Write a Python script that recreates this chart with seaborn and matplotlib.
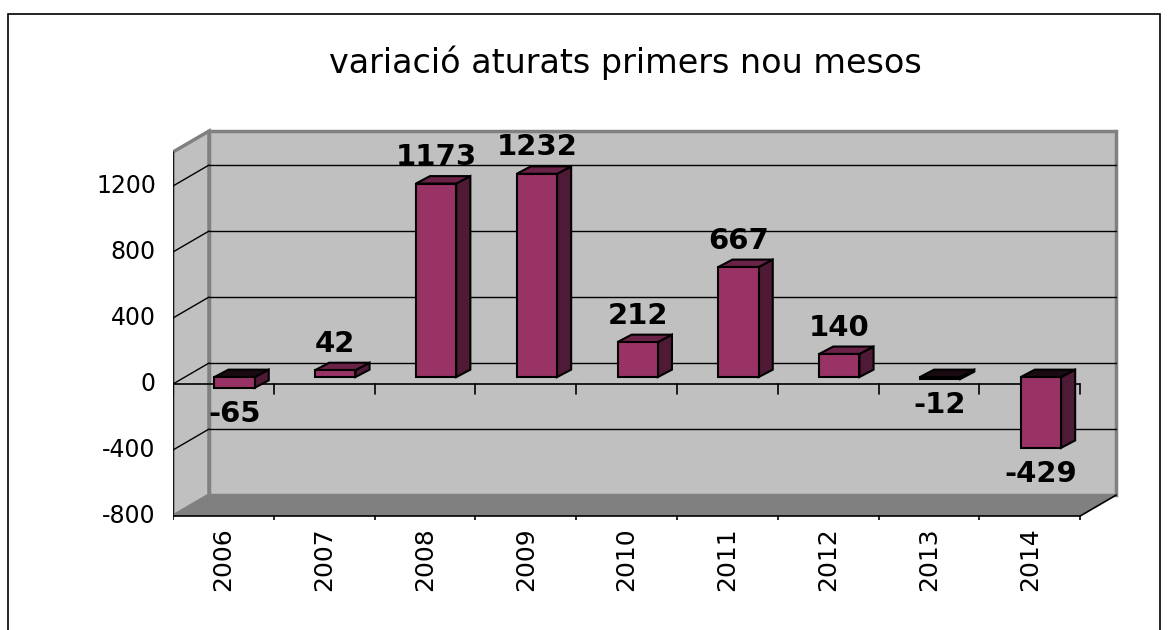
import matplotlib
matplotlib.use("Agg")
import matplotlib.pyplot as plt
import numpy as np
import pandas as pd
import seaborn as sns
from matplotlib.patches import Polygon, Rectangle

years = ["2006", "2007", "2008", "2009", "2010", "2011", "2012", "2013", "2014"]
values = [-65, 42, 1173, 1232, 212, 667, 140, -12, -429]
y_ticks = [-800, -400, 0, 400, 800, 1200]
title = "variació aturats primers nou mesos"

data = pd.DataFrame({"year": years, "value": values})

# fake 3D geometry (data units)
WALL_DX, WALL_DY = 0.357, 127      # depth of the back wall
BAR_DX, BAR_DY = 0.14, 45          # depth of each bar
BAR_SHIFT_X, BAR_SHIFT_Y = 0.11, 42
Y_TOP, Y_FLOOR = 1406, -800
X_LEFT, X_RIGHT = -0.5, len(years) - 0.5

sns.set_style("white")
plt.rcParams["text.color"] = "black"

fig = plt.figure(figsize=(11.74, 6.30), dpi=100)
ax = fig.add_axes([173 / 1174, 110 / 630, 947 / 1174, 395 / 630])

# outer chart border
fig.patches.append(Rectangle((8 / 1174, -0.01), 1152 / 1174, 616 / 630 + 0.01,
                             transform=fig.transFigure, fill=False,
                             edgecolor="black", linewidth=1.2))

# walls
back = Polygon([(X_LEFT + WALL_DX, Y_FLOOR + WALL_DY), (X_RIGHT + WALL_DX, Y_FLOOR + WALL_DY),
                (X_RIGHT + WALL_DX, Y_TOP + WALL_DY), (X_LEFT + WALL_DX, Y_TOP + WALL_DY)],
               closed=True, facecolor="#C0C0C0", edgecolor="#808080", linewidth=2.5, zorder=0)
side = Polygon([(X_LEFT, Y_FLOOR), (X_LEFT + WALL_DX, Y_FLOOR + WALL_DY),
                (X_LEFT + WALL_DX, Y_TOP + WALL_DY), (X_LEFT, Y_TOP)],
               closed=True, facecolor="#C0C0C0", edgecolor="#808080", linewidth=2.5, zorder=0)
floor = Polygon([(X_LEFT, Y_FLOOR), (X_RIGHT, Y_FLOOR), (X_RIGHT + WALL_DX, Y_FLOOR + WALL_DY),
                 (X_LEFT + WALL_DX, Y_FLOOR + WALL_DY)],
                closed=True, facecolor="#808080", edgecolor="none", zorder=1)
ax.add_patch(back)
ax.add_patch(side)
ax.add_patch(floor)

# gridlines on back wall and side wall
for v in y_ticks[1:]:
    ax.plot([X_LEFT + WALL_DX, X_RIGHT + WALL_DX], [v + WALL_DY, v + WALL_DY],
            color="black", linewidth=1, zorder=1)
    ax.plot([X_LEFT, X_LEFT + WALL_DX], [v, v + WALL_DY], color="black", linewidth=1, zorder=1)

# front axes lines and ticks
ax.plot([X_LEFT, X_LEFT], [Y_FLOOR, Y_TOP], color="black", linewidth=1.2, zorder=2)
ax.plot([X_LEFT, X_RIGHT, X_RIGHT + WALL_DX], [Y_FLOOR, Y_FLOOR, Y_FLOOR + WALL_DY],
        color="black", linewidth=1.2, zorder=2)
ax.plot([X_LEFT, X_RIGHT], [0, 0], color="black", linewidth=1.2, zorder=2)
for b in np.arange(X_LEFT, X_RIGHT + 0.01, 1.0):
    ax.plot([b, b], [0, -60], color="black", linewidth=1.2, zorder=2)
    ax.plot([b, b], [Y_FLOOR, Y_FLOOR - 60], color="black", linewidth=1.2, zorder=2)
for v in y_ticks:
    ax.plot([X_LEFT - 0.08, X_LEFT], [v, v], color="black", linewidth=1.2, zorder=2)
    ax.text(X_LEFT - 0.17, v, str(v), ha="right", va="center", fontsize=17)

# bars
sns.barplot(data=data, x="year", y="value", color="#993366", saturation=1,
            width=0.4, edgecolor="black", linewidth=1.5, ax=ax, zorder=3)

for patch, v in zip(ax.patches[3:], values):
    patch.set_x(patch.get_x() + BAR_SHIFT_X)
    patch.set_y(patch.get_y() + BAR_SHIFT_Y)
    x0 = patch.get_x()
    x1 = x0 + patch.get_width()
    y0 = patch.get_y()
    y1 = y0 + patch.get_height()
    lo, hi = min(y0, y1), max(y0, y1)
    right_face = Polygon([(x1, lo), (x1 + BAR_DX, lo + BAR_DY), (x1 + BAR_DX, hi + BAR_DY), (x1, hi)],
                         closed=True, facecolor="#4F1A35", edgecolor="black", linewidth=1.5, zorder=2.9)
    top_face = Polygon([(x0, hi), (x1, hi), (x1 + BAR_DX, hi + BAR_DY), (x0 + BAR_DX, hi + BAR_DY)],
                       closed=True, facecolor="#6B2247" if v > 0 else "#1A0A12",
                       edgecolor="black", linewidth=1.5, zorder=2.9)
    ax.add_patch(right_face)
    ax.add_patch(top_face)
    cx = (x0 + x1) / 2
    off = 19 if v > 0 else -19
    ax.annotate(str(v), (cx, (hi if v > 0 else lo)), xytext=(0, off), textcoords="offset points",
                ha="center", va="center", fontsize=21, fontweight="bold", zorder=5)

# category labels
for i, y in enumerate(years):
    ax.text(i, Y_FLOOR - 70, y, rotation=90, ha="center", va="top", fontsize=18)

ax.set_xlim(X_LEFT, X_LEFT + 947 / 100.8)
ax.set_ylim((384 - 520) * 400 / 66, (384 - 125) * 400 / 66)
ax.set_xticks([])
ax.set_yticks([])
ax.set_xlabel("")
ax.set_ylabel("")
sns.despine(ax=ax, left=True, bottom=True)
ax.patch.set_alpha(0)
for t in ax.texts:
    t.set_clip_on(False)

fig.text(625 / 1174, 1 - 63 / 630, title, ha="center", va="center", fontsize=24)

fig.savefig("out.png", dpi=100)
